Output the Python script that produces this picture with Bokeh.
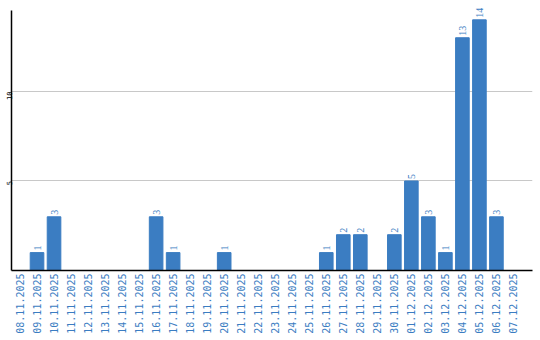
import math
from bokeh.plotting import figure
from bokeh.models import ColumnDataSource, Range1d, FixedTicker, LabelSet
from bokeh.embed import file_html
from bokeh.resources import INLINE

dates = ["08.11.2025", "09.11.2025", "10.11.2025", "11.11.2025", "12.11.2025",
         "13.11.2025", "14.11.2025", "15.11.2025", "16.11.2025", "17.11.2025",
         "18.11.2025", "19.11.2025", "20.11.2025", "21.11.2025", "22.11.2025",
         "23.11.2025", "24.11.2025", "25.11.2025", "26.11.2025", "27.11.2025",
         "28.11.2025", "29.11.2025", "30.11.2025", "01.12.2025", "02.12.2025",
         "03.12.2025", "04.12.2025", "05.12.2025", "06.12.2025", "07.12.2025"]
counts = [0, 1, 3, 0, 0, 0, 0, 0, 3, 1, 0, 0, 1, 0, 0, 0, 0, 0, 1, 2, 2, 0, 2, 5, 3, 1, 13, 14, 3, 0]
y_ticks = [5, 10]

BLUE = "#3b7dc2"
FONT = "DejaVu Sans Mono"
xs = list(range(len(dates)))

p = figure(frame_width=521, frame_height=270, output_backend="svg", toolbar_location=None,
           x_range=Range1d(-0.5, 30.12), y_range=Range1d(0, 15.08),
           min_border_left=10, min_border_right=9, min_border_top=0, min_border_bottom=70)
p.outline_line_color = None
p.background_fill_color = "white"
p.border_fill_color = "white"

bars = ColumnDataSource(dict(x=[x for x, c in zip(xs, counts) if c > 0],
                             top=[c for c in counts if c > 0],
                             lab=[str(c) for c in counts if c > 0]))
p.vbar(x="x", top="top", bottom=0, width=0.8, color=BLUE, source=bars)
labels = LabelSet(x="x", y="top", text="lab", source=bars, angle=math.pi / 2,
                  text_align="left", text_baseline="middle", y_offset=2,
                  text_color=BLUE, text_font=FONT, text_font_size="10px")
p.add_layout(labels)

p.xgrid.visible = False
p.ygrid.grid_line_color = "#c8c8c8"
p.ygrid.ticker = FixedTicker(ticks=y_ticks)

xa = p.xaxis[0]
xa.ticker = FixedTicker(ticks=xs)
xa.major_label_overrides = {i: d for i, d in enumerate(dates)}
xa.major_label_orientation = math.pi / 2
xa.major_tick_line_color = None
xa.minor_tick_line_color = None
xa.major_tick_out = 0
xa.major_label_standoff = 3
xa.axis_line_color = "black"
xa.axis_line_width = 1.5
xa.major_label_text_color = BLUE
xa.major_label_text_font = FONT
xa.major_label_text_font_size = "10px"

ya = p.yaxis[0]
ya.ticker = FixedTicker(ticks=y_ticks)
ya.bounds = (0, 14.5)
ya.major_label_orientation = math.pi / 2
ya.major_tick_line_color = None
ya.minor_tick_line_color = None
ya.major_tick_out = 0
ya.major_label_standoff = 2
ya.axis_line_color = "black"
ya.axis_line_width = 1.5
ya.major_label_text_color = "black"
ya.major_label_text_font = FONT
ya.major_label_text_font_size = "7px"

open("out.html", "w").write(file_html(p, INLINE))
